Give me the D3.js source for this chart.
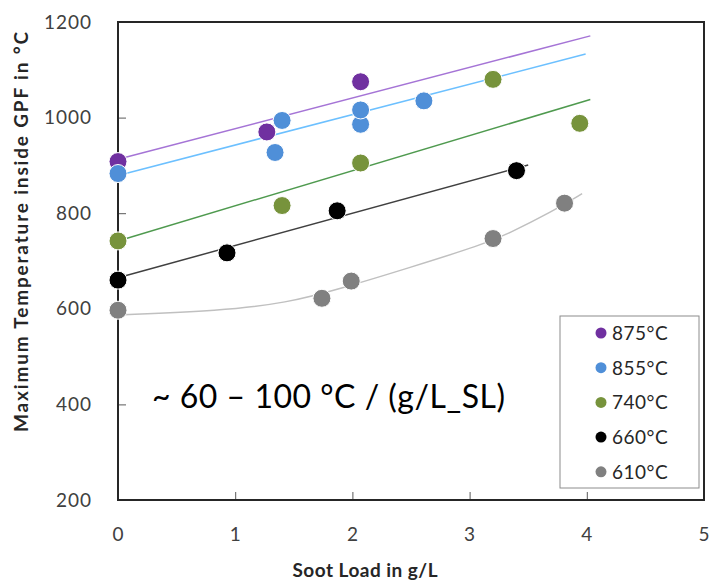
<!DOCTYPE html>
<html>
<head>
<meta charset="utf-8">
<script src="https://cdn.jsdelivr.net/npm/d3@7"></script>
<style>
  html, body { margin: 0; padding: 0; background: #fff; }
  svg { display: block; }
</style>
</head>
<body>
<svg id="chart" width="712" height="582"></svg>
<script>
// ---- data ----
const seriesNames = ["875°C", "855°C", "740°C", "660°C", "610°C"];
const x875 = [0, 1.27, 2.07];
const y875 = [908, 970, 1075];
const x855 = [0, 1.34, 1.40, 2.07, 2.07, 2.61];
const y855 = [883, 927, 994, 986, 1016, 1035];
const x740 = [0, 1.40, 2.07, 3.20, 3.94];
const y740 = [742, 816, 905, 1080, 988];
const x660 = [0, 0.93, 1.87, 3.40];
const y660 = [660, 717, 805, 889];
const x610 = [0, 1.74, 1.99, 3.20, 3.81];
const y610 = [597, 622, 658, 747, 821];

// linear trend lines (read endpoints) for 875, 855, 740, 660
const trendX0 = [0, 0, 0, 0];
const trendY0 = [913, 879, 742, 665];
const trendX1 = [4.03, 3.99, 4.03, 3.50];
const trendY1 = [1171, 1133, 1038, 901];
// curved trend line for 610
const curve610X = [0, 0.87, 1.44, 1.91, 2.46, 3.12, 3.32, 3.71, 3.96];
const curve610Y = [587, 596, 612, 643, 684, 735, 756, 804, 841];

const xTicks = [0, 1, 2, 3, 4, 5];
const yTicks = [200, 400, 600, 800, 1000, 1200];

const markerColors = ["#7030a0", "#4f8fd8", "#77933c", "#000000", "#808080"];
const lineColors = ["#a574d6", "#6cc0ff", "#4f9a4f", "#404040", "#c0c0c0"];

// ---- layout ----
const svg = d3.select("#chart");
const m = { left: 118, top: 22, right: 8, bottom: 82 };
const W = 712 - m.left - m.right, H = 582 - m.top - m.bottom;
const x = d3.scaleLinear().domain([0, 5]).range([0, W]);
const y = d3.scaleLinear().domain([200, 1200]).range([H, 0]);
const g = svg.append("g").attr("transform", `translate(${m.left},${m.top})`);

const FONT = "Lato, 'Open Sans', sans-serif";

// axes (inward ticks)
const xAxis = g.append("g").attr("transform", `translate(0,${H})`)
  .call(d3.axisBottom(x).tickValues(xTicks).tickSize(-8).tickPadding(28).tickFormat(d3.format("d")));
const yAxis = g.append("g")
  .call(d3.axisLeft(y).tickValues(yTicks).tickSize(-8).tickPadding(26).tickFormat(d3.format("d")));
[xAxis, yAxis].forEach(a => {
  a.select(".domain").remove();
  a.selectAll(".tick line").attr("stroke", "#595959").attr("stroke-width", 1);
  a.selectAll(".tick text").attr("fill", "#404040").style("font-family", FONT)
    .style("font-size", "19px").style("letter-spacing", "1px");
});
xAxis.selectAll(".tick text").attr("dy", "0.71em");

// frame
g.append("rect").attr("x", 0).attr("y", 0).attr("width", W).attr("height", H)
  .attr("fill", "none").attr("stroke", "#262626").attr("stroke-width", 2);

// trend lines
const line = d3.line().x(d => x(d[0])).y(d => y(d[1]));
trendX0.forEach((_, i) => {
  g.append("path")
    .attr("d", line([[trendX0[i], trendY0[i]], [trendX1[i], trendY1[i]]]))
    .attr("fill", "none").attr("stroke", lineColors[i]).attr("stroke-width", 1.5);
});
g.append("path")
  .attr("d", d3.line().curve(d3.curveBasis).x(d => x(d[0])).y(d => y(d[1]))(curve610X.map((v, i) => [v, curve610Y[i]])))
  .attr("fill", "none").attr("stroke", lineColors[4]).attr("stroke-width", 1.5);

// markers
const allX = [x875, x855, x740, x660, x610];
const allY = [y875, y855, y740, y660, y610];
allX.forEach((xs, s) => {
  g.append("g").selectAll("circle").data(xs.map((v, i) => [v, allY[s][i]])).join("circle")
    .attr("cx", d => x(d[0])).attr("cy", d => y(d[1])).attr("r", 9)
    .attr("fill", markerColors[s]).attr("stroke", "#fff").attr("stroke-width", 1);
});

// annotation
g.append("text").attr("x", 152 - m.left).attr("y", 408 - m.top)
  .style("font-family", FONT).style("font-size", "32px").attr("fill", "#000")
  .attr("textLength", 353).attr("lengthAdjust", "spacing")
  .text("~ 60 – 100 °C / (g/L_SL)");

// legend
const lg = svg.append("g").attr("transform", "translate(560,316)");
lg.append("rect").attr("width", 139).attr("height", 172)
  .attr("fill", "#fff").attr("stroke", "#8c8c8c").attr("stroke-width", 1);
seriesNames.forEach((n, i) => {
  const cy = 17 + i * 34.7;
  lg.append("circle").attr("cx", 41).attr("cy", cy).attr("r", 5.5).attr("fill", markerColors[i]);
  lg.append("text").attr("x", 52).attr("y", cy).attr("dy", "0.36em")
    .style("font-family", FONT).style("font-size", "19px").attr("fill", "#262626")
    .style("letter-spacing", "0.5px").text(n);
});

// axis titles
svg.append("text").attr("x", 365).attr("y", 577).attr("text-anchor", "middle")
  .style("font-family", FONT).style("font-size", "19px").style("font-weight", "bold").attr("fill", "#262626")
  .attr("textLength", 145).attr("lengthAdjust", "spacing")
  .text("Soot Load in g/L");
svg.append("text").attr("transform", "translate(28,232) rotate(-90)").attr("text-anchor", "middle")
  .style("font-family", FONT).style("font-size", "19px").style("font-weight", "bold").attr("fill", "#262626")
  .attr("textLength", 400).attr("lengthAdjust", "spacing")
  .text("Maximum Temperature inside GPF in °C");
</script>
</body>
</html>
